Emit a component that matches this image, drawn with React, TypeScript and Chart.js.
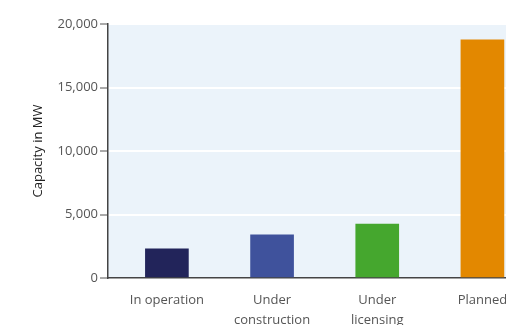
import React, { useEffect, useRef } from "react";
import { Chart, registerables } from "chart.js";

Chart.register(...registerables);

const categories: (string | string[])[] = ["In operation", ["Under", "construction"], ["Under", "licensing"], "Planned"];
const capacityMW = [2300, 3400, 4250, 18750];
const barColors = ["#22245a", "#3f529c", "#45a72e", "#e38800"];
const yTicks = [0, 5000, 10000, 15000, 20000];

const bgPlugin = {
  id: "plotBg",
  beforeDraw(chart: any) {
    const { ctx, chartArea } = chart;
    if (!chartArea) return;
    ctx.save();
    ctx.fillStyle = "#ebf3fa";
    ctx.fillRect(chartArea.left, chartArea.top, chartArea.right - chartArea.left, chartArea.bottom - chartArea.top);
    ctx.restore();
  },
};

export default function App() {
  const ref = useRef<HTMLCanvasElement | null>(null);
  useEffect(() => {
    if (!ref.current) return;
    const chart = new Chart(ref.current, {
      type: "bar",
      data: {
        datasets: [
          {
            data: capacityMW.map((v, i) => ({ x: i, y: v })),
            backgroundColor: barColors,
            barThickness: 43,
            borderWidth: 0,
          },
        ],
      },
      plugins: [bgPlugin],
      options: {
        animation: false,
        responsive: true,
        maintainAspectRatio: false,
        layout: { padding: { top: 24, right: 5, bottom: 0, left: 0 } },
        plugins: { legend: { display: false }, tooltip: { enabled: false } },
        scales: {
          x: {
            type: "linear",
            offset: false,
            min: -0.56,
            max: 3.5,
            grid: { display: false },
            border: { display: true, color: "#444", width: 1.5 },
            afterBuildTicks: (scale: any) => {
              scale.ticks = categories.map((_, i) => ({ value: i }));
            },
            afterFit: (scale: any) => {
              scale.height = 47;
            },
            ticks: {
              autoSkip: false,
              maxRotation: 0,
              padding: 5,
              color: "#555",
              font: { family: "'Open Sans', sans-serif", size: 13, lineHeight: 1.5 },
              callback: (value: any) => {
                const i = Math.round(Number(value));
                return categories[i] ?? "";
              },
            },
          },
          y: {
            min: 0,
            max: 20000,
            afterBuildTicks: (scale: any) => {
              scale.ticks = yTicks.map((v) => ({ value: v }));
            },
            afterFit: (scale: any) => {
              scale.width = 108;
            },
            grid: {
              color: "#ffffff",
              lineWidth: 2,
              tickColor: "#555",
              tickLength: 8,
              tickWidth: 1,
            },
            border: { display: true, color: "#444", width: 1.5 },
            ticks: {
              padding: 2,
              color: "#555",
              font: { family: "'Open Sans', sans-serif", size: 13 },
              callback: (value: any) => Number(value).toLocaleString("en-US"),
            },
            title: {
              display: true,
              text: "Capacity in MW",
              color: "#222",
              padding: { top: 30, bottom: 0 },
              font: { family: "'Open Sans', sans-serif", size: 13 },
            },
          },
        },
      },
    });
    return () => chart.destroy();
  }, []);
  return (
    <div style={{ position: "fixed", left: 0, top: 0, width: 540, height: 325 }}>
      <canvas ref={ref} />
    </div>
  );
}
